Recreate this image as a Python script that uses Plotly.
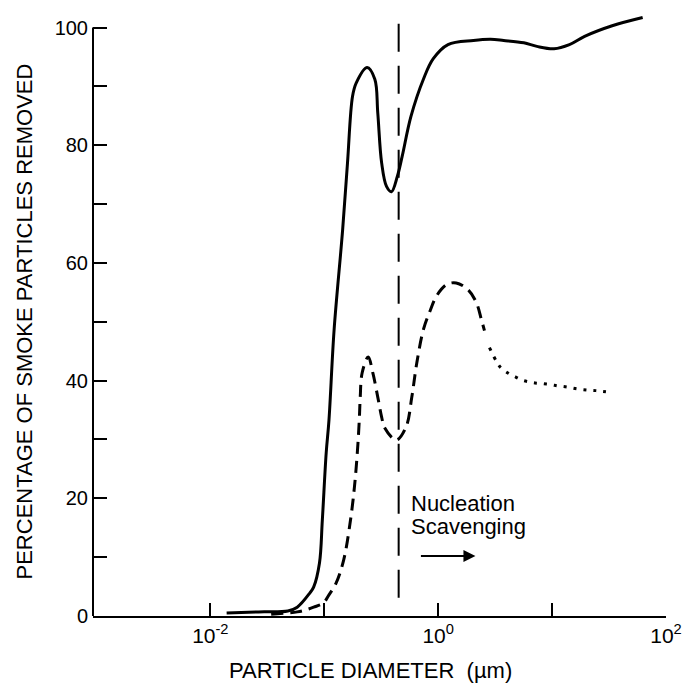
import plotly.graph_objects as go

# Particle diameter (µm) and percentage removed
solid_d = [0.0139, 0.0265, 0.0479, 0.0579, 0.0746, 0.0807, 0.0908, 0.0962, 0.104, 0.110,
           0.122, 0.145, 0.160, 0.177, 0.191, 0.238, 0.278, 0.295, 0.319, 0.352,
           0.389, 0.438, 0.483, 0.577, 0.745, 0.906, 1.22, 2.04, 2.88, 3.76,
           5.65, 7.36, 10.4, 14.2, 19.3, 33.7, 62.4]
solid_pct = [0.5, 0.7, 0.85, 1.5, 3.9, 4.9, 9.0, 16.3, 27.7, 33.3,
             48.6, 65.6, 77.0, 88.3, 90.6, 93.2, 91.2, 85.5, 77.0, 73.0,
             72.1, 74.7, 78.1, 84.9, 91.3, 94.7, 97.1, 97.8, 98.0, 97.8,
             97.4, 96.8, 96.4, 97.1, 98.5, 100.3, 101.7]

dashed_d = [0.0342, 0.0579, 0.0676, 0.0807, 0.0982, 0.110, 0.127, 0.148, 0.170, 0.184,
            0.195, 0.203, 0.207, 0.215, 0.243, 0.267, 0.295, 0.319, 0.339, 0.429,
            0.522, 0.587, 0.649, 0.745, 0.855, 0.962, 1.18, 1.44, 1.84, 2.17,
            2.40, 2.55]
dashed_pct = [0.3, 0.7, 1.0, 1.5, 2.2, 3.6, 5.6, 9.5, 16.3, 21.9,
              27.7, 33.3, 37.2, 41.3, 44.0, 41.3, 37.2, 33.8, 32.0, 29.9,
              32.1, 37.2, 43.0, 48.8, 52.0, 54.3, 56.3, 56.6, 55.4, 53.2,
              50.3, 48.5]

dotted_d = [2.82, 3.26, 3.54, 4.16, 4.80, 5.43, 6.25, 7.08, 8.17, 9.79,
            11.3, 13.6, 16.4, 20.1, 24.2, 29.7]
dotted_pct = [45.6, 43.2, 42.2, 41.2, 40.6, 40.1, 39.8, 39.6, 39.5, 39.3,
              39.1, 38.9, 38.6, 38.4, 38.3, 38.1]

cutoff_d = [0.45, 0.45]
cutoff_pct = [3.1, 102.5]

x_tickvals = [0.01, 1, 100]
x_ticktext = ["10<sup>-2</sup>", "10<sup>0</sup>", "10<sup>2</sup>"]
x_minorvals = [0.1, 10]
y_tickvals = [0, 20, 40, 60, 80, 100]
y_ticktext = ["0", "20", "40", "60", "80", "100"]
y_minorvals = [10, 30, 50, 70, 90]

FONT = "Liberation Sans, Arial, Helvetica, sans-serif"

fig = go.Figure()
fig.add_trace(go.Scatter(x=cutoff_d, y=cutoff_pct, mode="lines",
                         line=dict(color="black", width=2, dash="28px,14px"),
                         showlegend=False, hoverinfo="skip"))
fig.add_trace(go.Scatter(x=solid_d, y=solid_pct, mode="lines",
                         line=dict(color="black", width=3, shape="spline", smoothing=1.0),
                         showlegend=False))
fig.add_trace(go.Scatter(x=dashed_d, y=dashed_pct, mode="lines",
                         line=dict(color="black", width=3, dash="12px,7px",
                                   shape="spline", smoothing=1.0),
                         showlegend=False))
fig.add_trace(go.Scatter(x=dotted_d, y=dotted_pct, mode="lines",
                         line=dict(color="black", width=3, dash="3px,7px",
                                   shape="spline", smoothing=1.0),
                         showlegend=False))

fig.update_layout(
    width=686, height=684,
    margin=dict(l=93, r=16, t=4, b=68),
    paper_bgcolor="white", plot_bgcolor="white",
    font=dict(family=FONT, color="black", size=20),
    xaxis=dict(type="log", range=[-3.03, 2.0], showgrid=False, zeroline=False,
               showline=True, linecolor="black", linewidth=2,
               ticks="inside", ticklen=13, tickwidth=2, tickcolor="black",
               tickvals=x_tickvals, ticktext=x_ticktext,
               minor=dict(tickvals=x_minorvals, ticks="inside", ticklen=13,
                          tickwidth=2, tickcolor="black", showgrid=False),
               tickfont=dict(size=21, family=FONT, color="black")),
    yaxis=dict(range=[0, 104], showgrid=False, zeroline=False, showline=False,
               ticks="inside", ticklen=14, tickwidth=2, tickcolor="black",
               tickvals=y_tickvals, ticktext=y_ticktext,
               minor=dict(tickvals=y_minorvals, ticks="inside", ticklen=14,
                          tickwidth=2, tickcolor="black", showgrid=False),
               tickfont=dict(size=20, family=FONT, color="black"),
               ticklabelstandoff=4),
    shapes=[dict(type="line", xref="paper", yref="y", x0=0, x1=0, y0=0, y1=100,
                 line=dict(color="black", width=2))],
    annotations=[
        dict(text="PARTICLE DIAMETER  (µm)", xref="paper", yref="paper",
             x=0.485, y=-0.0895, xanchor="center", yanchor="middle",
             showarrow=False, font=dict(size=22, family=FONT, color="black")),
        dict(text="PERCENTAGE OF SMOKE PARTICLES REMOVED", xref="paper", yref="paper",
             x=-0.1196, y=0.482, xanchor="center", yanchor="middle", textangle=-90,
             showarrow=False, font=dict(size=22, family=FONT, color="black")),
        dict(text="Nucleation", xref="x", yref="y", x=-0.255, y=19.2,
             xanchor="left", yanchor="middle", showarrow=False,
             font=dict(size=22, family=FONT, color="black")),
        dict(text="Scavenging", xref="x", yref="y", x=-0.255, y=15.2,
             xanchor="left", yanchor="middle", showarrow=False,
             font=dict(size=22, family=FONT, color="black")),
        dict(text="", xref="x", yref="y", x=0.327, y=10.2, ax=-56, ay=0,
             showarrow=True, arrowhead=2, arrowsize=1.2, arrowwidth=2,
             arrowcolor="black"),
    ],
)

fig.write_html("out.html")
